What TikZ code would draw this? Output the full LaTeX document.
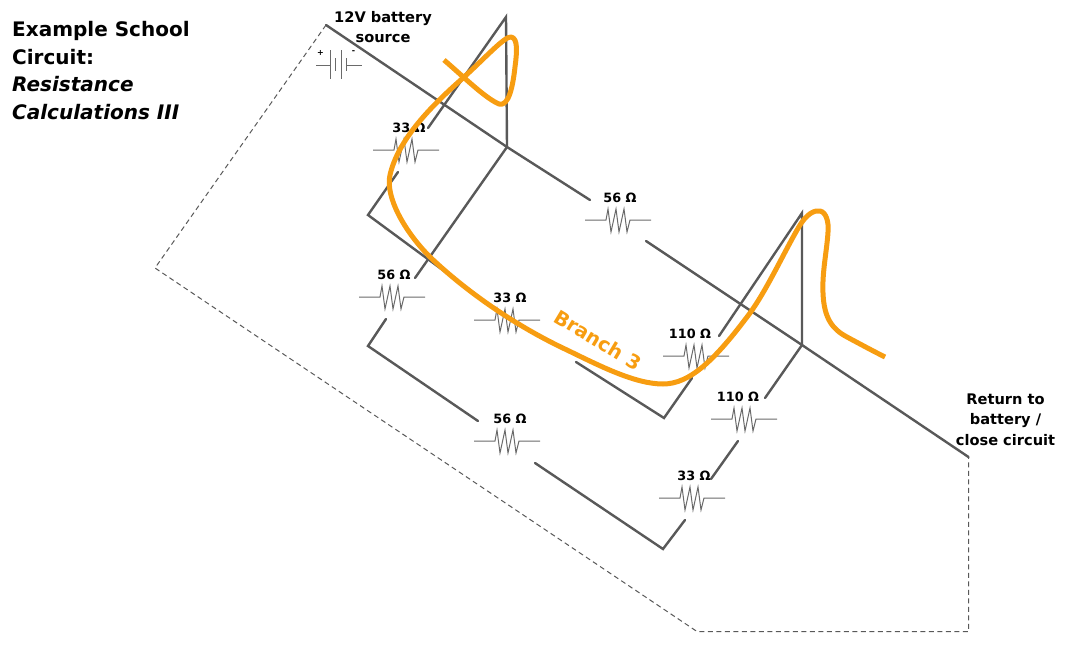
\documentclass[tikz,border=0pt]{standalone}
\usepackage{fontspec}
\setmainfont{DejaVu Sans}
\definecolor{wirec}{HTML}{595959}
\definecolor{resc}{HTML}{6A6A6A}
\definecolor{branchc}{HTML}{F79D11}
\newcommand{\resistor}[5]{%
  \coordinate (#1) at (#2,#3);
  \node[valuelabel] (#1l) at (#2+#5,#3-22) {#4 Ω};
  \draw[resline] (#2-33,#3) -- (#2-12,#3) -- (#2-10,#3-11) -- (#2-7,#3+12) -- (#2-2,#3-11) -- (#2+1,#3+12) -- (#2+6,#3-11) -- (#2+9,#3+12) -- (#2+12,#3) -- (#2+33,#3);
}
\tikzset{
  x=1pt,y=-1pt,
  wire/.style={draw=wirec,line width=2.4pt,line cap=round,line join=miter},
  resline/.style={draw=resc,line width=1pt,line join=miter},
  returnline/.style={draw=wirec,line width=1pt,dash pattern=on 5pt off 3.5pt},
  valuelabel/.style={font=\fontsize{12.8}{16}\selectfont\bfseries,inner sep=0pt,text=black},
  infolabel/.style={font=\fontsize{14.6}{20.3}\selectfont\bfseries,align=center,inner sep=0pt,text=black},
  branchline/.style={draw=branchc,line width=5pt,line cap=butt,line join=round},
}
\begin{document}
\begin{tikzpicture}
\useasboundingbox (0,0) rectangle (1073,656);
% corners
\coordinate (bat) at (326,25);
\coordinate (ret) at (968.5,457);
\coordinate (j1) at (507,147);
\coordinate (j2) at (802,345);
\coordinate (t1) at (506,17);
\coordinate (t2) at (802,213);
\coordinate (c1) at (368,215);
\coordinate (c2) at (664,418);
\coordinate (c3) at (368,346);
\coordinate (c4) at (663,549);
\coordinate (d1) at (155,268);
\coordinate (d2) at (697,631.5);
\coordinate (d3) at (968.5,631.5);
% gap ends
\coordinate (a1) at (590,200);
\coordinate (a2) at (646,241);
\coordinate (b1) at (428,128);
\coordinate (b2) at (398,172);
\coordinate (b3) at (478,296);
\coordinate (b4) at (576,362);
\coordinate (b5) at (692,378);
\coordinate (b6) at (719,336);
\coordinate (e1) at (415,278);
\coordinate (e2) at (386,319);
\coordinate (e3) at (478,421);
\coordinate (e4) at (535,463);
\coordinate (e5) at (685,520);
\coordinate (e6) at (711,479);
\coordinate (e7) at (738,441);
\coordinate (e8) at (765,398);
% return path
\draw[returnline] (bat) -- (d1) -- (d2) -- (d3) -- (ret);
% wires
\draw[wire] (bat) -- (j1) -- (a1);
\draw[wire] (a2) -- (j2) -- (ret);
\draw[wire] (j1) -- (t1) -- (b1);
\draw[wire] (b2) -- (c1) -- (b3);
\draw[wire] (b4) -- (c2) -- (b5);
\draw[wire] (b6) -- (t2) -- (j2);
\draw[wire] (j1) -- (e1);
\draw[wire] (e2) -- (c3) -- (e3);
\draw[wire] (e4) -- (c4) -- (e5);
\draw[wire] (e6) -- (e7);
\draw[wire] (e8) -- (j2);
% resistors
\resistor{r1}{406}{150}{33}{3}
\resistor{r2}{618}{220}{56}{2}
\resistor{r3}{392}{297}{56}{2}
\resistor{r4}{507}{320}{33}{3}
\resistor{r5}{696}{356}{110}{-6}
\resistor{r6}{744}{419}{110}{-6}
\resistor{r7}{507}{441}{56}{3}
\resistor{r8}{692}{498}{33}{2}
% battery
\draw[resline] (316,65) -- (330,65) (330,50) -- (330,79);
\draw[resline] (335.5,58) -- (335.5,71);
\draw[resline] (341,50) -- (341,79);
\draw[resline] (346.5,58) -- (346.5,71) (346.5,65) -- (362,65);
\node[font=\fontsize{8}{9}\selectfont\bfseries,inner sep=0pt] (plus) at (320.5,52.5) {+};
\node[font=\fontsize{8}{9}\selectfont\bfseries,inner sep=0pt] (minus) at (353.5,52.5) {-};
% labels
\node[infolabel] (batlabel) at (383,27) {12V battery\\source};
\node[infolabel] (retlabel) at (1005.5,419.5) {Return to\\battery /\\close circuit};
\node[font=\fontsize{20}{27.5}\selectfont\bfseries,align=left,anchor=north west,inner sep=0pt] (title) at (12,21.5) {Example School\\Circuit:\\\itshape Resistance\\\itshape Calculations III};
% branch
\draw[branchline] (444,60) .. controls (465,78) and (485,98) .. (499,104)
  .. controls (509,107) and (513,85) .. (515,67)
  .. controls (517,52) and (518,38) .. (511,37)
  .. controls (505,36) and (485,58) .. (463,78)
  .. controls (430,107) and (398,140) .. (390,175)
  .. controls (385,197) and (405,232) .. (430,257)
  .. controls (470,295) and (520,328) .. (567,350)
  .. controls (600,366) and (635,384) .. (663,384)
  .. controls (690,384) and (715,360) .. (750,313)
  .. controls (768,288) and (785,250) .. (800,225)
  .. controls (807,214) and (814,210) .. (820,211)
  .. controls (826,212) and (829,222) .. (828,232)
  .. controls (827,250) and (822,272) .. (823,293)
  .. controls (824,318) and (832,329) .. (847,337)
  .. controls (860,344) and (873,351) .. (885,357);
\node[font=\fontsize{19.5}{24}\selectfont\bfseries,text=branchc,rotate=-31,inner sep=0pt] (branch) at (598,340) {Branch 3};
\end{tikzpicture}
\end{document}
